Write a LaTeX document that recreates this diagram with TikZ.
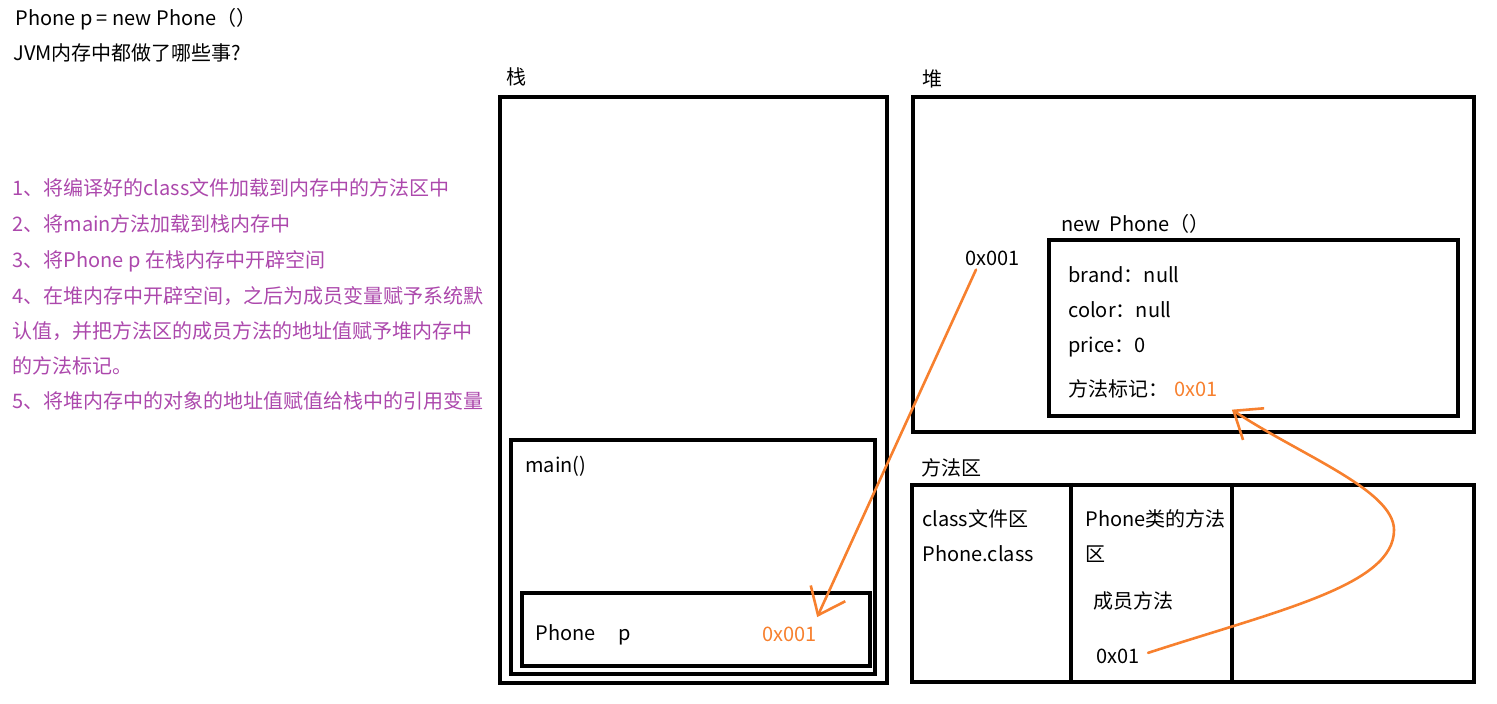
\documentclass[tikz,border=0pt]{standalone}
\usepackage{fontspec}
\setmainfont{Noto Sans CJK SC}
\usetikzlibrary{arrows.meta, positioning}
\definecolor{notepurple}{RGB}{172, 72, 172}
\definecolor{addrorange}{RGB}{247, 128, 46}

\begin{document}
\begin{tikzpicture}[x=0.5pt, y=-0.5pt,
    box/.style={draw, line width=1.6pt},
    txt/.style={anchor=base west, inner sep=0pt, font=\fontsize{10pt}{12pt}\selectfont},
    note/.style={txt, text=notepurple},
    addr/.style={txt, text=addrorange},
    ref/.style={draw=addrorange, line width=1.3pt, line cap=round, -{Straight Barb[length=12pt, width=19pt]}}]
    \useasboundingbox (0,0) rectangle (1497,704);

    % Title
    \node[txt] (code) at (15,26) {Phone p = new Phone（）};
    \node[txt] (question) at (13,61) {JVM内存中都做了哪些事?};

    % Steps
    \foreach \y/\step [count=\i] in {
        196/{1、将编译好的class文件加载到内存中的方法区中},
        232/{2、将main方法加载到栈内存中},
        268/{3、将Phone p 在栈内存中开辟空间},
        304/{4、在堆内存中开辟空间，之后为成员变量赋予系统默},
        339/{认值，并把方法区的成员方法的地址值赋予堆内存中},
        374/{的方法标记。},
        409/{5、将堆内存中的对象的地址值赋值给栈中的引用变量}
    } {
        \node[note] (step\i) at (12,\y) {\step};
    }

    % Stack
    \node[txt] (stacklabel) at (506,85) {栈};
    \draw[box] (500,97) rectangle (887,683);
    \draw[box] (511,440) rectangle (875,674);
    \node[txt] (mainframe) at (525,473) {main()};
    \draw[box] (522,593) rectangle (870,666);
    \node[txt] (vartype) at (535,640) {Phone};
    \node[txt] (varname) at (618,640) {p};
    \node[addr] (stackaddr) at (762,641) {0x001};

    % Heap
    \node[txt] (heaplabel) at (922,87) {堆};
    \draw[box] (913,97) rectangle (1474,432);
    \node[txt] (heapaddr) at (965,266) {0x001};
    \node[txt] (objlabel) at (1061,232) {new\ \ Phone（）};
    \draw[box] (1049,240) rectangle (1458,416);
    \foreach \y/\field [count=\i] in {283/brand：null, 318/color：null, 353/price：0} {
        \node[txt] (field\i) at (1068,\y) {\field};
    }
    \node[txt] (marklabel) at (1068,397) {方法标记：};
    \node[addr, base right=2.5pt of marklabel] (mark) {0x01};

    % Method area
    \node[txt] (methodlabel) at (921,476) {方法区};
    \draw[box] (912,485) rectangle (1474,682);
    \draw[box] (1071,483) -- (1071,682);
    \draw[box] (1232,483) -- (1232,682);
    \node[txt] (classarea) at (922,527) {class文件区};
    \node[txt] (classfile) at (922,561) {Phone.class};
    \node[txt] (phonearea) at (1085,527) {Phone类的方法};
    \node[txt] (phonearea2) at (1085,561) {区};
    \node[txt] (members) at (1093,608) {成员方法};
    \node[txt] (mref) at (1096,663) {0x01};

    % References
    \draw[ref] ([xshift=5.5pt, yshift=-1.5pt]heapaddr.south west) -- ([yshift=4.5pt]stackaddr.north east);
    \draw[ref] ([xshift=4pt, yshift=1.5pt]mref.east) .. controls (1280,610) and (1394,585) .. (1394,530)
        .. controls (1394,490) and (1300,455) .. ([xshift=7pt, yshift=-6pt]mark.south east);
\end{tikzpicture}
\end{document}
